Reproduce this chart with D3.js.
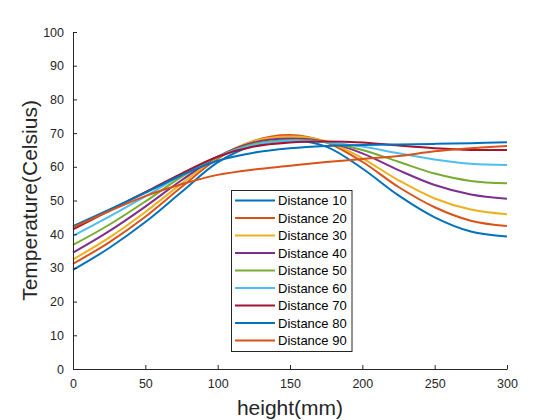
<!DOCTYPE html>
<html>
<head>
<meta charset="utf-8">
<script src="https://cdn.jsdelivr.net/npm/d3@7"></script>
<style>
  html, body { margin: 0; padding: 0; background: #fff; }
  svg { display: block; font-family: "Liberation Sans", Arial, Helvetica, sans-serif; }
</style>
</head>
<body>
<svg id="chart" width="560" height="420"></svg>
<script>
const heights = [0, 25, 50, 75, 100, 125, 150, 175, 200, 225, 250, 275, 300];
const seriesNames = ["Distance 10","Distance 20","Distance 30","Distance 40","Distance 50","Distance 60","Distance 70","Distance 80","Distance 90"];
const d10 = [29.4, 35.9, 43.6, 52.5, 61.3, 66.3, 67.9, 66.0, 59.5, 51.5, 45.0, 40.8, 39.3];
const d20 = [31.2, 37.6, 45.2, 54.0, 62.4, 67.7, 69.4, 67.3, 61.5, 54.0, 48.0, 44.0, 42.4];
const d30 = [32.5, 39.0, 46.6, 55.0, 62.8, 67.6, 69.0, 67.6, 62.5, 56.0, 50.6, 47.3, 45.9];
const d40 = [34.5, 40.9, 48.2, 56.0, 63.0, 67.2, 68.4, 67.4, 64.0, 59.0, 54.6, 51.8, 50.5];
const d50 = [36.8, 42.8, 49.7, 57.0, 63.0, 66.8, 67.9, 67.3, 65.0, 61.5, 58.0, 55.8, 55.1];
const d60 = [39.5, 45.2, 51.2, 57.5, 63.0, 66.5, 67.7, 67.3, 66.0, 64.0, 62.2, 60.9, 60.5];
const d70 = [41.4, 47.0, 52.5, 58.0, 63.0, 66.0, 67.2, 67.5, 67.2, 66.3, 65.5, 65.0, 65.0];
const d80 = [42.4, 47.3, 52.3, 57.5, 61.8, 64.2, 65.5, 66.2, 66.5, 66.6, 66.8, 67.0, 67.3];
const d90 = [42.0, 46.8, 51.3, 54.8, 57.6, 59.2, 60.3, 61.4, 62.3, 63.2, 64.6, 65.5, 66.2];
const seriesValues = [d10, d20, d30, d40, d50, d60, d70, d80, d90];
const colors = ["#0072BD","#D95319","#EDB120","#7E2F8E","#77AC30","#4DBEEE","#A2142F","#0072BD","#D95319"];
const xTicks = [0, 50, 100, 150, 200, 250, 300];
const yTicks = [0, 10, 20, 30, 40, 50, 60, 70, 80, 90, 100];
const xLabel = "height(mm)";
const yLabel = "Temperature(Celsius)";

const axisColor = "#262626";
const svg = d3.select("#chart");
const L = 73, R = 507, T = 32, B = 369;
const x = d3.scaleLinear().domain([0, 300]).range([L, R]);
const y = d3.scaleLinear().domain([0, 100]).range([B, T]);

// lines
const line = d3.line().x((d, i) => x(heights[i])).y(d => y(d)).curve(d3.curveCatmullRom.alpha(0.5));
const g = svg.append("g");
seriesValues.forEach((vals, k) => {
  g.append("path").datum(vals)
    .attr("d", line)
    .attr("fill", "none")
    .attr("stroke", colors[k])
    .attr("stroke-width", 2);
});

// axes (ticks inward)
const xAxis = d3.axisBottom(x).tickValues(xTicks).tickSize(-4).tickPadding(10).tickSizeOuter(0);
const yAxis = d3.axisLeft(y).tickValues(yTicks).tickSize(-4).tickPadding(9).tickSizeOuter(0);
const gx = svg.append("g").attr("transform", `translate(0,${B})`).call(xAxis);
const gy = svg.append("g").attr("transform", `translate(${L},0)`).call(yAxis);
[gx, gy].forEach(a => {
  a.select(".domain").attr("stroke", axisColor).attr("stroke-width", 1);
  a.selectAll(".tick line").attr("stroke", axisColor).attr("stroke-width", 1);
  a.selectAll(".tick text").attr("fill", axisColor).style("font-size", "12.5px")
    .style("font-family", '"Liberation Sans", Arial, sans-serif');
});

// axis labels
svg.append("text").attr("x", (L + R) / 2).attr("y", 415)
  .attr("text-anchor", "middle").attr("fill", axisColor)
  .style("font-size", "21px").text(xLabel);
svg.append("text").attr("transform", `translate(37,${(T + B) / 2}) rotate(-90)`)
  .attr("text-anchor", "middle").attr("fill", axisColor)
  .style("font-size", "21px").text(yLabel);

// legend
const lgX = 231.5, lgY = 190.5, lgW = 120.5, lgH = 161, rowH = 17.5, firstRow = 200.5;
const lg = svg.append("g");
lg.append("rect").attr("x", lgX).attr("y", lgY).attr("width", lgW).attr("height", lgH)
  .attr("fill", "#fff").attr("stroke", axisColor).attr("stroke-width", 1);
seriesNames.forEach((name, k) => {
  const yy = firstRow + k * rowH;
  lg.append("line").attr("x1", 235).attr("x2", 275).attr("y1", yy).attr("y2", yy)
    .attr("stroke", colors[k]).attr("stroke-width", 2);
  lg.append("text").attr("x", 278).attr("y", yy).attr("dy", "0.35em")
    .attr("fill", "#000").style("font-size", "13px").text(name);
});
</script>
</body>
</html>
